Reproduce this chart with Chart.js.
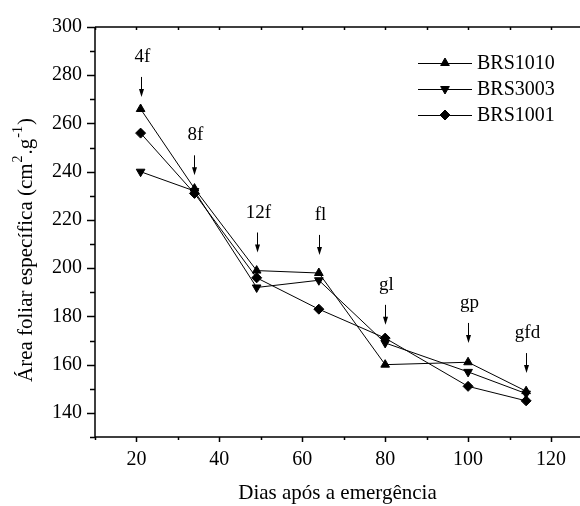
<!DOCTYPE html>
<html>
<head>
<meta charset="utf-8">
<script src="https://cdn.jsdelivr.net/npm/chart.js@4/dist/chart.umd.min.js"></script>
<style>
html,body{margin:0;padding:0;background:#fff}
canvas{display:block}
</style>
</head>
<body>
<canvas id="afe" width="580" height="506"></canvas>
<script>
// dias após a emergência e AFE (cm2.g-1) por cultivar
const dias = [21, 34, 49, 64, 80, 100, 114];
const brs1010 = [266, 233, 199, 198, 160, 161, 149];
const brs3003 = [240, 232, 192, 195, 169, 157, 148];
const brs1001 = [256, 231, 196, 183, 171, 151, 145];
// estádios fenológicos marcados com seta (ponta da seta em unidades de AFE)
const estadios = ['4f', '8f', '12f', 'fl', 'gl', 'gp', 'gfd'];
const setaPonta = [271, 238.5, 206.5, 205.5, 176.5, 169, 156.5];

const FONTE = '"Liberation Serif", "Times New Roman", serif';
const pts = arr => dias.map((d, i) => ({x: d, y: arr[i]}));

function serie(label, data, style, rot){
  return {label, data: pts(data), borderColor:'#000', backgroundColor:'#000', borderWidth:1,
    pointStyle: style, rotation: rot, pointRadius:5, pointHoverRadius:5, tension:0};
}

// eixos com marcas maiores/menores e linha superior
const eixos = {
  id:'eixos',
  beforeDatasetsDraw(chart){
    const {ctx, chartArea:a, scales:{x, y}} = chart;
    ctx.save();
    ctx.strokeStyle = '#000';
    ctx.lineWidth = 1.5;
    ctx.beginPath();
    ctx.moveTo(a.left, a.top); ctx.lineTo(a.left, a.bottom);
    ctx.moveTo(a.left, a.bottom); ctx.lineTo(a.right, a.bottom);
    ctx.moveTo(a.left, a.top); ctx.lineTo(a.right, a.top);
    for (let v = 130; v <= 300; v += 10){
      const p = Math.round(y.getPixelForValue(v)) + 0.5;
      const len = v % 20 === 0 ? 8 : 5;
      ctx.moveTo(a.left - len, p); ctx.lineTo(a.left, p);
    }
    for (let v = 10; v <= 120; v += 10){
      const p = Math.round(x.getPixelForValue(v)) + 0.5;
      const len = v % 20 === 0 ? 5 : 3;
      ctx.moveTo(p, a.bottom); ctx.lineTo(p, a.bottom + len);
      ctx.moveTo(p, a.top); ctx.lineTo(p, a.top + 3);
    }
    ctx.stroke();
    ctx.restore();
  },
  afterDraw(chart){
    const {ctx, chartArea:a} = chart;
    ctx.save();
    ctx.fillStyle = '#000';
    ctx.textBaseline = 'alphabetic';
    // título do eixo x
    ctx.font = '21px ' + FONTE;
    ctx.textAlign = 'center';
    ctx.fillText('Dias após a emergência', (a.left + a.right) / 2, 499);
    // título do eixo y com expoentes
    const partes = [['Área foliar específica (cm', 0], ['2', 1], ['.g', 0], ['-1', 1], [')', 0]];
    ctx.translate(32, 250);
    ctx.rotate(-Math.PI / 2);
    ctx.textAlign = 'left';
    let total = 0;
    partes.forEach(([t, sup]) => { ctx.font = (sup ? '14px ' : '21px ') + FONTE; total += ctx.measureText(t).width + (sup ? 2 : 0); });
    let cx = -total / 2;
    partes.forEach(([t, sup]) => {
      ctx.font = (sup ? '14px ' : '21px ') + FONTE;
      ctx.fillText(t, cx + (sup ? 1 : 0), sup ? -10 : 0);
      cx += ctx.measureText(t).width + (sup ? 2 : 0);
    });
    ctx.restore();
  }
};

// setas e rótulos dos estádios
const setas = {
  id:'setas',
  afterDatasetsDraw(chart){
    const {ctx, scales:{x, y}} = chart;
    ctx.save();
    ctx.strokeStyle = '#000';
    ctx.fillStyle = '#000';
    ctx.lineWidth = 1;
    ctx.font = '19px ' + FONTE;
    ctx.textAlign = 'center';
    estadios.forEach((txt, i) => {
      const px = Math.round(x.getPixelForValue(dias[i])) + 0.5;
      const py = y.getPixelForValue(setaPonta[i]);
      ctx.beginPath();
      ctx.moveTo(px, py - 20); ctx.lineTo(px, py - 6);
      ctx.stroke();
      ctx.beginPath();
      ctx.moveTo(px - 2.5, py - 8); ctx.lineTo(px + 2.5, py - 8); ctx.lineTo(px, py);
      ctx.closePath(); ctx.fill();
      ctx.fillText(txt, px + 1, py - 35);
    });
    ctx.restore();
  }
};

// legenda dentro da área do gráfico
const legenda = {
  id:'legenda',
  afterDraw(chart){
    const {ctx} = chart;
    ctx.save();
    ctx.font = '20px ' + FONTE;
    ctx.textBaseline = 'middle';
    ctx.textAlign = 'left';
    chart.data.datasets.forEach((ds, i) => {
      const yy = 63 + i * 26;
      ctx.strokeStyle = '#000'; ctx.lineWidth = 1;
      ctx.beginPath(); ctx.moveTo(418, yy + 0.5); ctx.lineTo(472, yy + 0.5); ctx.stroke();
      ctx.fillStyle = '#000';
      Chart.helpers.drawPoint(ctx, {pointStyle: ds.pointStyle, radius: 5, rotation: ds.rotation || 0, borderWidth: 1}, 445, yy);
      ctx.fillText(ds.label, 477, yy + 1);
    });
    ctx.restore();
  }
};

new Chart(document.getElementById('afe'), {
  type:'line',
  data:{datasets:[
    serie('BRS1010', brs1010, 'triangle', 0),
    serie('BRS3003', brs3003, 'triangle', 180),
    serie('BRS1001', brs1001, 'rectRot', 0)
  ]},
  options:{
    responsive:false,
    animation:false,
    devicePixelRatio:1,
    layout:{autoPadding:false, padding:{top:27, right:0, left:0, bottom:0}},
    plugins:{legend:{display:false}, tooltip:{enabled:false}},
    scales:{
      x:{type:'linear', min:10, max:127,
        grid:{display:false, drawTicks:false}, border:{display:false},
        ticks:{stepSize:10, includeBounds:false, padding:11, color:'#000', font:{family:FONTE, size:20}, maxRotation:0,
          autoSkip:false,
          callback: v => (v % 20 === 0 && v >= 20 && v <= 120) ? v : ''},
        afterFit: s => { s.height = 69; s.paddingLeft = 0; s.paddingRight = 0; }},
      y:{min:130, max:300,
        grid:{display:false, drawTicks:false}, border:{display:false},
        ticks:{stepSize:10, padding:13, color:'#000', font:{family:FONTE, size:20}, autoSkip:false,
          callback: v => (v % 20 === 0 && v >= 140) ? v : ''},
        afterFit: s => { s.width = 95; s.paddingTop = 0; s.paddingBottom = 0; }}
    }
  },
  plugins:[eixos, setas, legenda]
});
</script>
</body>
</html>
